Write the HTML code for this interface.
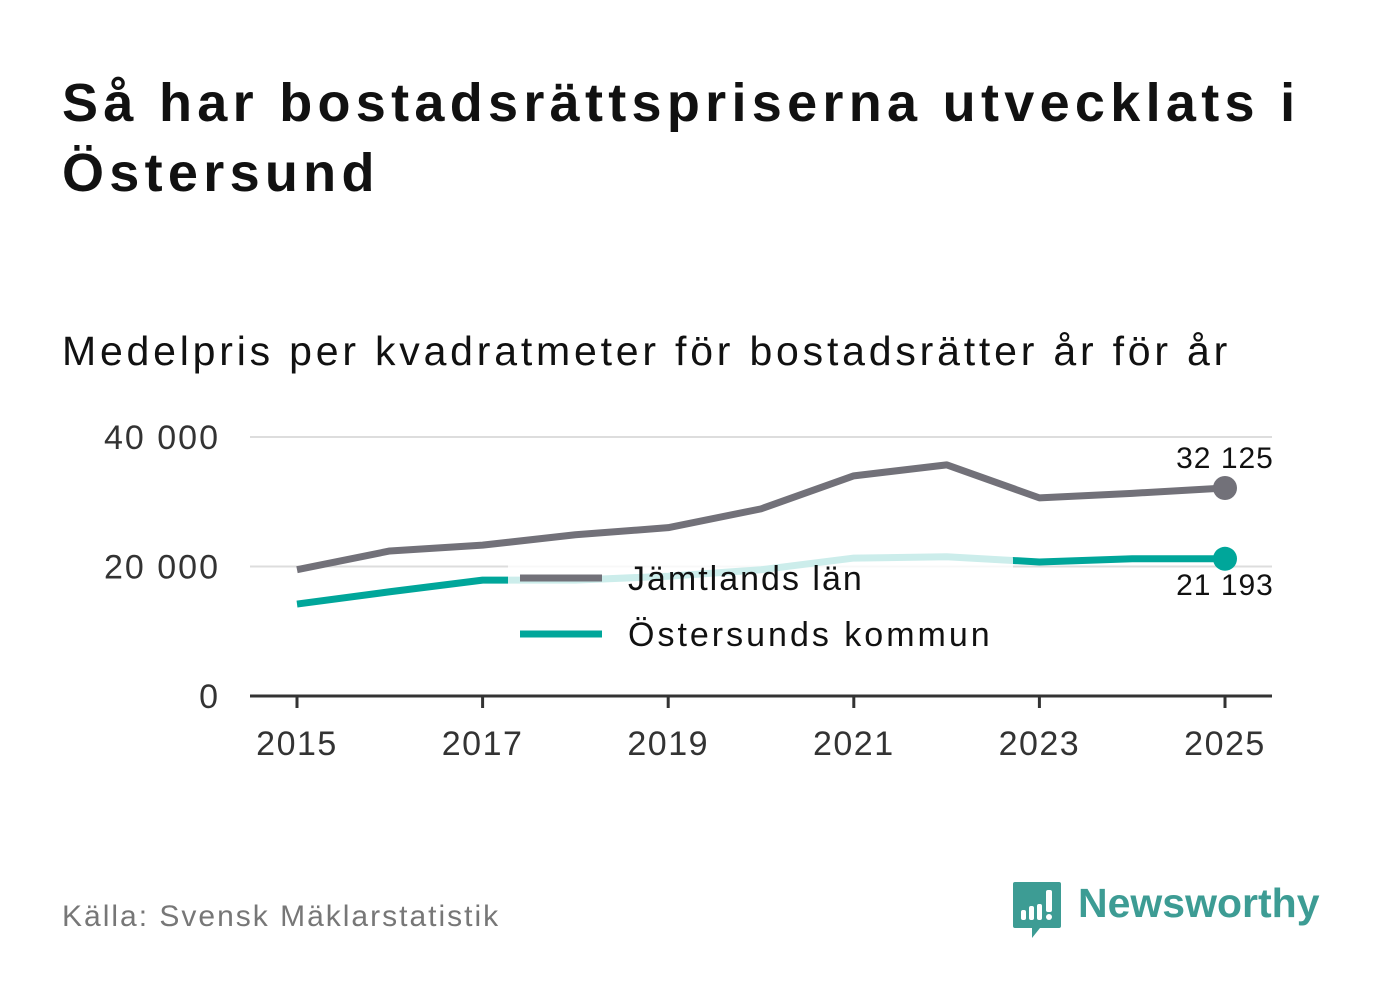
<!DOCTYPE html>
<html><head><meta charset="utf-8"><style>
body{margin:0;width:1382px;height:999px;background:#fff;font-family:"Liberation Sans","DejaVu Sans",sans-serif;overflow:hidden;position:relative}
.t{position:absolute;margin:0}
</style></head><body>
<h1 class="t" style="left:62px;top:68px;font-size:54px;line-height:70px;font-weight:bold;color:#111;width:1320px;letter-spacing:5.3px">Så har bostadsrättspriserna utvecklats i Östersund</h1>
<div class="t" style="left:62px;top:328px;font-size:41px;color:#111;letter-spacing:3.8px">Medelpris per kvadratmeter för bostadsrätter år för år</div>
<svg id="chart" width="1382" height="800" style="position:absolute;left:0;top:0"></svg>
<div class="t" style="left:62px;top:900px;font-size:30px;color:#777;letter-spacing:2px">Källa: Svensk Mäklarstatistik</div>
<div class="t" style="left:1012px;top:880px;width:320px;height:60px">
<svg width="50" height="60" style="position:absolute;left:0;top:0"><path d="M3 2h44a2 2 0 0 1 2 2v42a2 2 0 0 1-2 2H28l-8 10v-10H3a2 2 0 0 1-2-2V4a2 2 0 0 1 2-2z" fill="#3d9c94"/><rect x="9" y="30" width="5" height="10" rx="2" fill="#fff"/><rect x="17" y="26" width="5" height="14" rx="2" fill="#fff"/><rect x="25" y="24" width="5" height="16" rx="2" fill="#fff"/><rect x="34" y="10" width="6" height="22" rx="2" fill="#fff"/><circle cx="37" cy="37" r="3" fill="#fff"/></svg>
<div style="position:absolute;left:66px;top:0;font-size:41px;font-weight:bold;color:#3d9c94">Newsworthy</div>
</div>
<script>
const years=[2015,2016,2017,2018,2019,2020,2021,2022,2023,2024,2025];
const jamtland=[19500,22400,23300,24900,26000,28900,34000,35700,30600,31300,32125];
const ostersund=[14200,16100,17900,17900,18500,19500,21300,21500,20700,21200,21193];
const yTicks=[0,20000,40000];
const xTicks=[2015,2017,2019,2021,2023,2025];
const ns="http://www.w3.org/2000/svg";
const svg=document.getElementById('chart');
const x=v=>297+(v-2015)*92.8;
const y=v=>696-v*(259/40000);
const fmt=v=>v.toLocaleString('en').replace(/,/g,' ');
function mk(t,a){const e=document.createElementNS(ns,t);for(const k in a)e.setAttribute(k,a[k]);svg.appendChild(e);return e;}
yTicks.forEach(v=>{
  if(v>0){const g=mk('line',{x1:250,x2:1272,y1:y(v),y2:y(v),stroke:'#ddd','stroke-width':2});
  
  }
  const t=mk('text',{x:220,y:y(v)+12,'text-anchor':'end','font-size':34,fill:'#333','letter-spacing':2});t.textContent=fmt(v);
  
  
});
const ax=mk('line',{x1:250,x2:1272,y1:696,y2:696,stroke:'#333','stroke-width':3});


xTicks.forEach(v=>{
  const l=mk('line',{x1:x(v),x2:x(v),y1:696,y2:708,stroke:'#333','stroke-width':3});
  
  
  const t=mk('text',{x:x(v),y:755,'text-anchor':'middle','font-size':34,fill:'#333','letter-spacing':1.5});t.textContent=v;
  
  
});
function series(vals,color,name){
  const p=mk('polyline',{points:vals.map((v,i)=>x(years[i])+','+y(v)).join(' '),fill:'none',stroke:color,'stroke-width':7,'stroke-linejoin':'round'});
  
  
  const n=vals.length-1;
  const c=mk('circle',{cx:x(years[n]),cy:y(vals[n]),r:12,fill:color});
  
  
}
series(jamtland,'#727179','jamtland');
series(ostersund,'#00a69a','ostersund');
const lb=mk('rect',{x:508,y:545,width:505,height:112,rx:14,fill:'rgba(255,255,255,0.8)'});


[['Jämtlands län','#727179',578,2],['Östersunds kommun','#00a69a',634,3]].forEach(([n,c,yy,ls])=>{
  const l=mk('line',{x1:520,x2:602,y1:yy,y2:yy,stroke:c,'stroke-width':7});
  
  
  const t=mk('text',{x:628,y:yy+12,'font-size':34,fill:'#111','letter-spacing':ls});t.textContent=n;
  
  
});
const n=years.length-1;
const a=mk('text',{x:x(years[n]),y:y(jamtland[n])-20,'text-anchor':'middle','font-size':30,fill:'#111','letter-spacing':1});a.textContent=fmt(jamtland[n]);


const b=mk('text',{x:x(years[n]),y:y(ostersund[n])+36,'text-anchor':'middle','font-size':30,fill:'#111','letter-spacing':1});b.textContent=fmt(ostersund[n]);


</script>
</body></html>
